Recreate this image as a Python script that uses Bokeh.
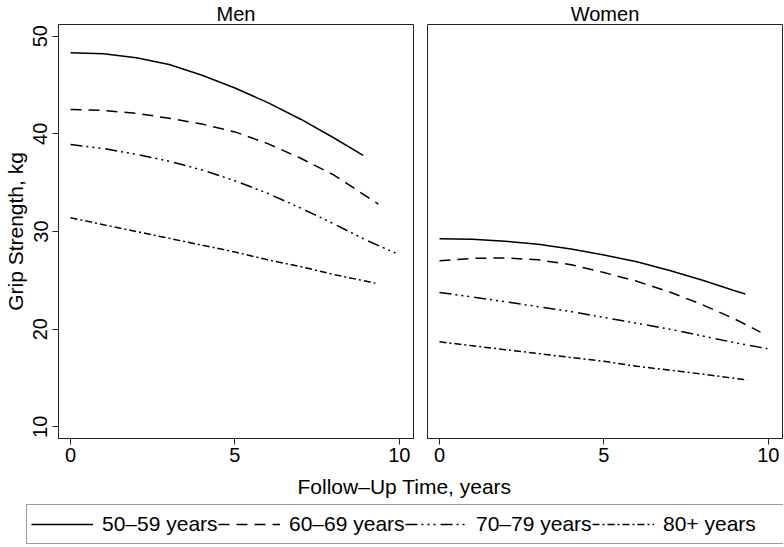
from bokeh.plotting import figure
from bokeh.models import Range1d, FixedTicker, Legend, LegendItem, Label
from bokeh.layouts import column, row
from bokeh.embed import file_html
from bokeh.resources import INLINE

FONT = "Liberation Sans"

groups = ["50\u201359 years", "60\u201369 years", "70\u201379 years", "80+ years"]
panels = ["Men", "Women"]

men_t_5059 = [0, 1, 2, 3, 4, 5, 6, 7, 8, 8.9]
men_v_5059 = [48.3, 48.2, 47.8, 47.1, 46.0, 44.7, 43.2, 41.5, 39.6, 37.8]
men_t_6069 = [0, 1, 2, 3, 4, 5, 6, 7, 8, 9, 9.36]
men_v_6069 = [42.5, 42.4, 42.1, 41.6, 41.0, 40.2, 39.0, 37.5, 35.8, 33.6, 32.8]
men_t_7079 = [0, 1, 2, 3, 4, 5, 6, 7, 8, 9, 9.88]
men_v_7079 = [38.9, 38.5, 37.9, 37.2, 36.3, 35.2, 33.9, 32.4, 30.8, 29.1, 27.8]
men_t_80 = [0, 1, 2, 3, 4, 5, 6, 7, 8, 9, 9.27]
men_v_80 = [31.4, 30.7, 30.0, 29.3, 28.6, 27.9, 27.1, 26.4, 25.6, 24.9, 24.7]

women_t_5059 = [0, 1, 2, 3, 4, 5, 6, 7, 8, 9, 9.3]
women_v_5059 = [29.25, 29.2, 29.0, 28.7, 28.2, 27.6, 26.9, 26.0, 25.0, 23.9, 23.6]
women_t_6069 = [0, 1, 2, 3, 4, 5, 6, 7, 8, 9, 9.76]
women_v_6069 = [27.0, 27.25, 27.3, 27.1, 26.6, 25.8, 24.9, 23.8, 22.5, 21.0, 19.7]
women_t_7079 = [0, 1, 2, 3, 4, 5, 6, 7, 8, 9, 9.97]
women_v_7079 = [23.75, 23.3, 22.8, 22.3, 21.8, 21.2, 20.6, 20.0, 19.3, 18.6, 18.0]
women_t_80 = [0, 1, 2, 3, 4, 5, 6, 7, 8, 9, 9.36]
women_v_80 = [18.7, 18.3, 17.9, 17.5, 17.1, 16.7, 16.2, 15.8, 15.4, 14.95, 14.8]

x_ticks = [0, 5, 10]
y_ticks = [10, 20, 30, 40, 50]

dashes = ["solid", "11 7", "12 4 2 4 2 4 2 5", "7 3 2 3"]
LW = 1.5
LC = "black"
AXC = "#222222"

PH = 470          # panel figure height
MB_TOP = 24
MB_BOTTOM = 32
FRAME_W = 355

men = [(men_t_5059, men_v_5059), (men_t_6069, men_v_6069),
       (men_t_7079, men_v_7079), (men_t_80, men_v_80)]
women = [(women_t_5059, women_v_5059), (women_t_6069, women_v_6069),
         (women_t_7079, women_v_7079), (women_t_80, women_v_80)]


def make_panel(title, series, mb_left, mb_right, with_y):
    p = figure(width=mb_left + FRAME_W + mb_right, height=PH,
               x_range=Range1d(-0.365, 10.43), y_range=Range1d(8.8, 51.2),
               output_backend="svg", toolbar_location=None,
               min_border_left=mb_left, min_border_right=mb_right,
               min_border_top=MB_TOP, min_border_bottom=MB_BOTTOM,
               y_axis_location="left" if with_y else None)
    p.grid.visible = False
    p.outline_line_color = AXC
    p.outline_line_width = 1
    p.background_fill_color = "white"
    p.border_fill_color = "white"
    p.title.text = title
    p.title.align = "center"
    p.title.text_font = FONT
    p.title.text_font_size = "20px"
    p.title.text_font_style = "normal"
    p.title.text_color = "black"
    p.title.standoff = 0
    for (t, v), d in zip(series, dashes):
        p.line(t, v, line_color=LC, line_width=LW, line_dash=d)
    ax = p.xaxis[0]
    ax.ticker = FixedTicker(ticks=x_ticks)
    ax.minor_tick_line_color = None
    ax.major_tick_out = 6
    ax.major_tick_in = 0
    ax.major_label_text_font = FONT
    ax.major_label_text_font_size = "20px"
    ax.major_label_text_color = "black"
    ax.major_label_standoff = 3
    ax.axis_line_color = AXC
    ax.major_tick_line_color = AXC
    if with_y:
        ay = p.yaxis[0]
        ay.ticker = FixedTicker(ticks=y_ticks)
        ay.minor_tick_line_color = None
        ay.major_tick_out = 6
        ay.major_tick_in = 0
        ay.major_label_orientation = "vertical"
        ay.major_label_text_font = FONT
        ay.major_label_text_font_size = "20px"
        ay.major_label_text_color = "black"
        ay.major_label_standoff = 5
        ay.axis_label = "Grip Strength, kg"
        ay.axis_label_text_font = FONT
        ay.axis_label_text_font_size = "21px"
        ay.axis_label_text_font_style = "normal"
        ay.axis_label_text_color = "black"
        ay.axis_label_standoff = 4
        ay.axis_line_color = AXC
        ay.major_tick_line_color = AXC
    return p


p1 = make_panel(panels[0], men, 58, 7, True)
p2 = make_panel(panels[1], women, 7, 1, False)

p3 = figure(width=783, height=76, x_range=Range1d(0, 1), y_range=Range1d(0, 1),
            output_backend="svg", toolbar_location=None, min_border=0,
            x_axis_location=None, y_axis_location=None)
p3.grid.visible = False
p3.outline_line_color = None

xlab = Label(x=404, y=60, x_units="screen", y_units="screen",
             text="Follow\u2013Up Time, years", text_align="center",
             text_baseline="alphabetic", text_font=FONT, text_font_size="21px",
             text_color="black")
p3.add_layout(xlab)

# legend keys: same series, lying outside this strip's visible range
items = []
for g, (t, v), d in zip(groups, men, dashes):
    r = p3.line(t, v, line_color=LC, line_width=LW, line_dash=d)
    items.append(LegendItem(label=g, renderers=[r]))

leg = Legend(items=items, location=(26, 2), orientation="horizontal",
             glyph_width=62, glyph_height=30, label_standoff=9, label_width=116,
             spacing=0, padding=4, margin=0,
             label_text_font=FONT, label_text_font_size="21px",
             label_text_color="black",
             border_line_color="#3a3a3a", border_line_width=1.5,
             background_fill_color="white", background_fill_alpha=1)
p3.add_layout(leg)

layout = column(row(p1, p2), p3)

with open("out.html", "w") as f:
    f.write(file_html(layout, INLINE))
